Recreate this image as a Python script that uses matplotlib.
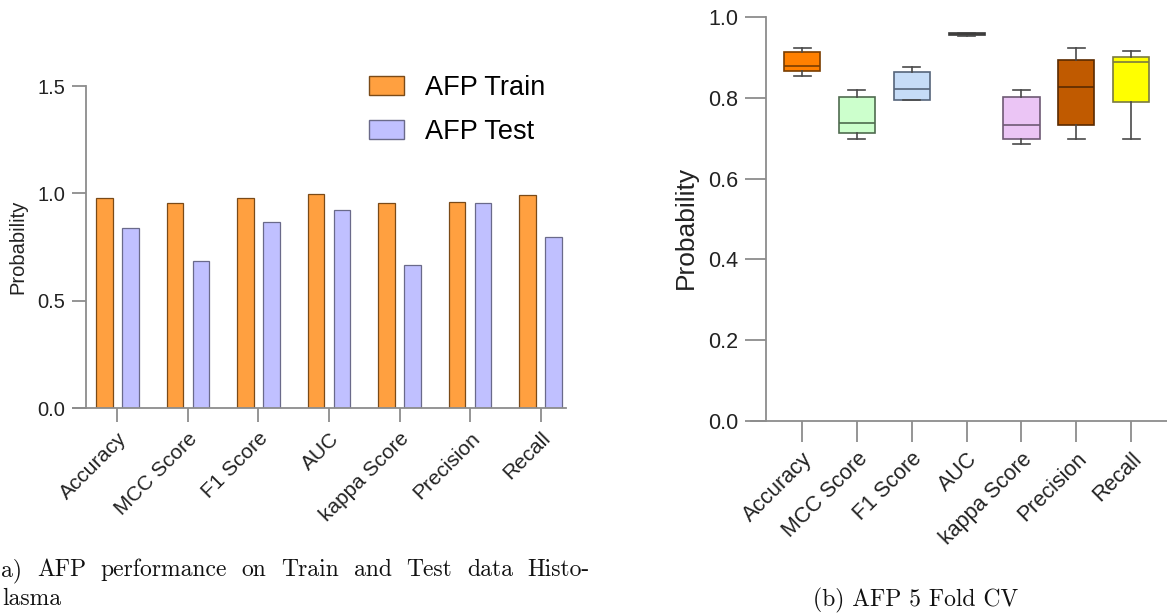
import numpy as np
import matplotlib
matplotlib.use("Agg")
import matplotlib.pyplot as plt
from matplotlib.patches import Patch

plt.rcParams["font.family"] = ["Liberation Sans", "DejaVu Sans"]

# ---- data -------------------------------------------------------------
metrics = ["Accuracy", "MCC Score", "F1 Score", "AUC", "kappa Score", "Precision", "Recall"]
train_scores = [0.977, 0.957, 0.977, 0.995, 0.953, 0.958, 0.991]
test_scores = [0.837, 0.684, 0.868, 0.922, 0.665, 0.953, 0.798]

# per-fold scores of the 5-fold cross validation
cv_accuracy = [0.855, 0.866, 0.879, 0.913, 0.925]
cv_mcc = [0.699, 0.712, 0.737, 0.802, 0.821]
cv_f1 = [0.795, 0.796, 0.823, 0.864, 0.876]
cv_auc = [0.954, 0.955, 0.958, 0.961, 0.962]
cv_kappa = [0.685, 0.698, 0.733, 0.802, 0.821]
cv_precision = [0.699, 0.734, 0.826, 0.895, 0.923]
cv_recall = [0.699, 0.791, 0.888, 0.902, 0.917]
cv_scores = [cv_accuracy, cv_mcc, cv_f1, cv_auc, cv_kappa, cv_precision, cv_recall]

left_yticks = [0.0, 0.5, 1.0, 1.5]
right_yticks = [0.0, 0.2, 0.4, 0.6, 0.8, 1.0]

caption_a_line1 = "a) AFP performance on Train and Test data Histo-"
caption_a_line2 = "lasma"
caption_b = "(b) AFP 5 Fold CV"

# ---- styles -----------------------------------------------------------
W, H = 1167, 615
fig = plt.figure(figsize=(W / 100, H / 100), dpi=100)

def frac_rect(x0, x1, ytop, ybot):
    return [x0 / W, 1 - ybot / H, (x1 - x0) / W, (ybot - ytop) / H]

spine_col = "#8c8c8c"
train_col, train_edge = "#FFA040", "#7a4a18"
test_col, test_edge = "#C0C0FF", "#6a6a8a"
box_fill = ["#FF8000", "#CCFFCC", "#C6DCF7", "#FFD9B0", "#EBC5F5", "#C05A00", "#FFFF00"]
box_edge = ["#7a3d00", "#4f6b4f", "#56657a", "#3a3a3a", "#6e5a74", "#5a2a00", "#7a7a40"]

# ---- (a) grouped bars -------------------------------------------------
ax1 = fig.add_axes(frac_rect(73, 566, 86, 408))
x = np.arange(len(metrics))
bw, off = 0.237, 0.185
ax1.bar(x - off, train_scores, bw, color=train_col, edgecolor=train_edge, linewidth=0.9, label="AFP Train")
ax1.bar(x + off, test_scores, bw, color=test_col, edgecolor=test_edge, linewidth=0.9, label="AFP Test")
ax1.set_xlim(-0.629, 6.36)
ax1.set_ylim(0, 1.5)
ax1.spines["left"].set_position(("data", -0.445))
for s in ("top", "right"):
    ax1.spines[s].set_visible(False)
for s in ("left", "bottom"):
    ax1.spines[s].set_color(spine_col)
    ax1.spines[s].set_linewidth(1.3)
ax1.set_yticks(left_yticks)
ax1.set_yticklabels([f"{v:.1f}" for v in left_yticks], fontsize=14.5, color="#222222")
ax1.set_xticks(x)
ax1.set_xticklabels(metrics, fontsize=15, rotation=45, ha="right", rotation_mode="anchor", color="#222222")
ax1.tick_params(axis="both", length=10, width=1.3, color=spine_col, pad=5)
ax1.set_ylabel("Probability", fontsize=14.5, color="#222222")
ax1.yaxis.set_label_coords(-0.093, 0.5)
ax1.legend(handles=[Patch(facecolor=train_col, edgecolor=train_edge, label="AFP Train"),
                    Patch(facecolor=test_col, edgecolor=test_edge, label="AFP Test")],
           loc="upper left", bbox_to_anchor=(369 / W, 1 - 75 / H), bbox_transform=fig.transFigure,
           frameon=False, fontsize=19.5, handlelength=1.3, handleheight=0.7,
           handletextpad=0.75, labelspacing=0.65, borderpad=0, borderaxespad=0)

# ---- (b) 5-fold CV box plot -------------------------------------------
ax2 = fig.add_axes(frac_rect(751, 1167, 17.3, 420.7))
bp = ax2.boxplot(cv_scores, positions=x, widths=0.66, whis=(0, 100), patch_artist=True,
                 showfliers=False, capwidths=0.31)
for i, b in enumerate(bp["boxes"]):
    b.set_facecolor(box_fill[i])
    b.set_edgecolor(box_edge[i])
    b.set_linewidth(1.2)
for i, m in enumerate(bp["medians"]):
    m.set_color(box_edge[i])
    m.set_linewidth(1.2)
for w in bp["whiskers"]:
    w.set_color("#4a4a4a")
    w.set_linewidth(1.2)
for c in bp["caps"]:
    c.set_color("#4a4a4a")
    c.set_linewidth(1.2)
ax2.set_xlim(-0.932, 6.654)
ax2.set_ylim(0, 1.0)
ax2.spines["left"].set_position(("data", -0.658))
for s in ("top", "right"):
    ax2.spines[s].set_visible(False)
for s in ("left", "bottom"):
    ax2.spines[s].set_color(spine_col)
    ax2.spines[s].set_linewidth(1.3)
ax2.set_yticks(right_yticks)
ax2.set_yticklabels([f"{v:.1f}" for v in right_yticks], fontsize=15.5, color="#222222")
ax2.set_xticks(x)
ax2.set_xticklabels(metrics, fontsize=15.5, rotation=45, ha="right", rotation_mode="anchor", color="#222222")
ax2.tick_params(axis="both", length=15, width=1.3, color=spine_col, pad=5)
ax2.set_ylabel("Probability", fontsize=19, color="#222222")
ax2.yaxis.set_label_coords(-0.127, 0.48)

# ---- captions ---------------------------------------------------------
cap_kw = dict(fontsize=17, family="cmr10", color="#111111", va="baseline")
renderer = fig.canvas.get_renderer()

def justified(text, x_left, x_right, y_base):
    words = text.split()
    arts = [fig.text(0, 1 - y_base / H, w, ha="left", **cap_kw) for w in words]
    widths = [a.get_window_extent(renderer).width for a in arts]
    gap = (x_right - x_left - sum(widths)) / (len(words) - 1)
    pos = x_left
    for a, w in zip(arts, widths):
        a.set_x(pos / W)
        pos += w + gap

justified(caption_a_line1, 1, 590, 576)
fig.text(2 / W, 1 - 605 / H, caption_a_line2, ha="left", **cap_kw)
fig.text(916 / W, 1 - 606 / H, caption_b, ha="center", **cap_kw)

fig.savefig("out.png", dpi=100)
